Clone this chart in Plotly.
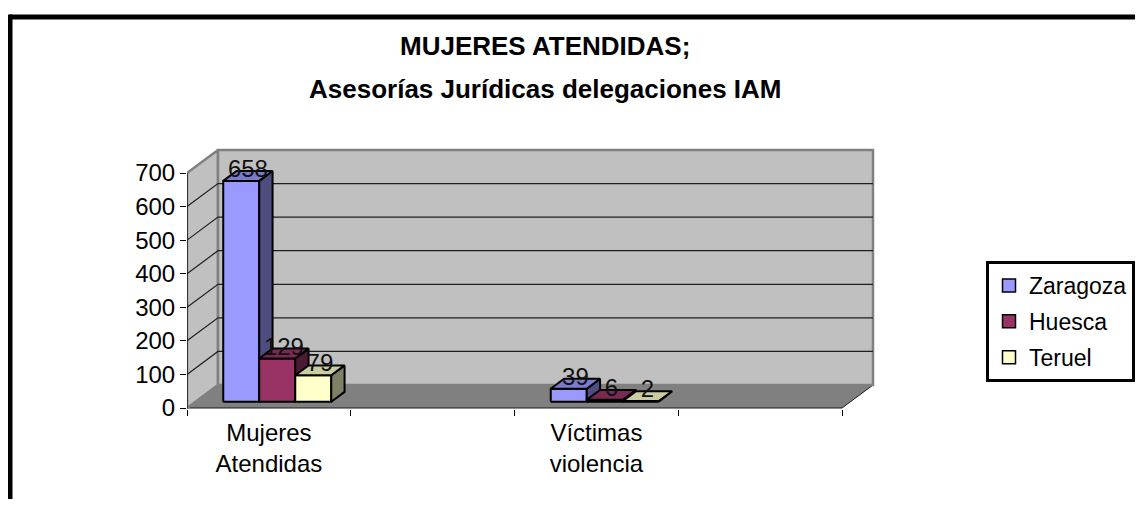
import plotly.graph_objects as go

# ---------------- data ----------------
categories = ["Mujeres<br>Atendidas", "", "Víctimas<br>violencia", ""]
series_names = ["Zaragoza", "Huesca", "Teruel"]
zaragoza = [658, None, 39, None]
huesca = [129, None, 6, None]
teruel = [79, None, 2, None]
y_ticks = [0, 100, 200, 300, 400, 500, 600, 700]
title_line1 = "MUJERES ATENDIDAS;"
title_line2 = "Asesorías Jurídicas delegaciones IAM"

# ---------------- styling / layout ----------------
front_colors = ["#9999FF", "#993366", "#FFFFCC"]
top_colors = ["#7B7BCC", "#7A2952", "#CCCCA3"]
side_colors = ["#4D4D80", "#4D1A33", "#808066"]
FONT = "Liberation Sans, Arial, sans-serif"

W, H = 1143, 507                      # browser window
OFF = 8                               # page body margin
FIG_W, FIG_H = W - 2 * OFF, H - 2 * OFF
L, R, T, B = 187, 880, 140, 409       # plot area in page px
Y0PX = 408                            # pixel row of value 0
KX = 163.75                           # px per category slot
KY = 235 / 700                        # px per value unit
x_range = [0, (R - L) / KX]
y_range = [-(B - Y0PX) / KY, (Y0PX - T) / KY]
DX = 31 / KX                          # depth offset in x units
DY = 23 / KY                          # depth offset in y units
BW = 36 / KX                          # bar width in x units
GROUP_OFF = (1 - 3 * BW) / 2
D_FRONT, D_BACK = 0.27, 0.70
n = len(categories)
ymax = y_ticks[-1]


def px_x(p):
    return (p - L) / (R - L)


def px_y(p):
    return (B - p) / (B - T)


fig = go.Figure()


def poly(xs, ys, fill, line_color, line_width, name=""):
    fig.add_trace(go.Scatter(
        x=xs, y=ys, mode="lines", fill="toself", fillcolor=fill,
        line=dict(color=line_color, width=line_width),
        hoverinfo="skip", showlegend=False, cliponaxis=False, name=name))


def line(xs, ys, color, width):
    fig.add_trace(go.Scatter(
        x=xs, y=ys, mode="lines", line=dict(color=color, width=width),
        hoverinfo="skip", showlegend=False, cliponaxis=False))


# floor
poly([0, n, n + DX, DX, 0], [0, 0, DY, DY, 0], "#808080", "#1a1a1a", 1)
# left wall
poly([0, DX, DX, 0, 0], [0, DY, ymax + DY, ymax, 0], "#C0C0C0", "#808080", 2.5)
# back wall
poly([DX, n + DX, n + DX, DX, DX], [DY, DY, ymax + DY, ymax + DY, DY],
     "#C0C0C0", "#808080", 2.5)

# gridlines
gx, gy = [], []
for v in y_ticks[1:-1]:
    gx += [0, DX, n + DX, None]
    gy += [v, v + DY, v + DY, None]
line(gx, gy, "#1f1f1f", 1.2)

# front y-axis edge
line([0, 0], [0, ymax], "#000000", 1.2)

# bars
all_series = [zaragoza, huesca, teruel]
ddx = (D_BACK - D_FRONT) * DX
ddy = (D_BACK - D_FRONT) * DY
lab_x, lab_y, lab_t = [], [], []
for j, vals in enumerate(all_series):
    fx, fy, sx, sy, tx, ty = [], [], [], [], [], []
    for i, v in enumerate(vals):
        if v is None:
            continue
        x0 = i + GROUP_OFF + j * BW + D_FRONT * DX
        x1 = x0 + BW
        y0 = D_FRONT * DY
        y1 = v + D_FRONT * DY
        fx += [x0, x1, x1, x0, x0, None]
        fy += [y0, y0, y1, y1, y0, None]
        sx += [x1, x1 + ddx, x1 + ddx, x1, x1, None]
        sy += [y0, y0 + ddy, y1 + ddy, y1, y0, None]
        tx += [x0, x1, x1 + ddx, x0 + ddx, x0, None]
        ty += [y1, y1, y1 + ddy, y1 + ddy, y1, None]
        lab_x.append((x0 + x1) / 2 + ddx / 2)
        lab_y.append(v + D_BACK * DY)
        lab_t.append(str(v))
    poly(fx, fy, front_colors[j], "#000000", 2, series_names[j])
    poly(sx, sy, side_colors[j], "#000000", 2)
    poly(tx, ty, top_colors[j], "#000000", 2)

# data labels
fig.add_trace(go.Scatter(
    x=lab_x, y=lab_y, text=lab_t, mode="text", textposition="middle center",
    textfont=dict(family=FONT, size=24, color="#111111"),
    hoverinfo="skip", showlegend=False, cliponaxis=False))

# legend entries
for j, nm in enumerate(series_names):
    fig.add_trace(go.Scatter(
        x=[None], y=[None], mode="markers", name=nm, legendgroup=nm,
        marker=dict(symbol="square", size=13, color=front_colors[j],
                    line=dict(color="#000000", width=1.5))))

fig.update_layout(
    width=FIG_W, height=FIG_H,
    margin=dict(l=L - OFF, r=(OFF + FIG_W) - R, t=T - OFF,
                b=(OFF + FIG_H) - B, pad=0, autoexpand=False),
    paper_bgcolor="white", plot_bgcolor="white",
    font=dict(family=FONT, color="#000000"),
    showlegend=True,
    legend=dict(x=px_x(986), y=px_y(261), xanchor="left", yanchor="top",
                bordercolor="#000000", borderwidth=3, bgcolor="white",
                font=dict(family=FONT, size=23, color="#000000"),
                itemwidth=30, tracegroupgap=3),
    xaxis=dict(range=x_range, showgrid=False, zeroline=False, showline=False,
               tickmode="array", tickvals=[i + 0.5 for i in range(n)],
               ticktext=categories, ticks="", ticklabelstandoff=7,
               tickfont=dict(family=FONT, size=24, color="#000000"),
               minor=dict(tickmode="array", tickvals=list(range(n + 1)),
                          ticks="outside", ticklen=6, tickcolor="#000000",
                          tickwidth=1, showgrid=False)),
    yaxis=dict(range=y_range, showgrid=False, zeroline=False, showline=False,
               tickmode="array", tickvals=y_ticks,
               ticktext=[str(v) for v in y_ticks],
               ticks="outside", ticklen=6, tickcolor="#000000", tickwidth=1,
               tickfont=dict(family=FONT, size=24, color="#000000")),
    annotations=[
        dict(text="<b>%s</b>" % title_line1, xref="paper", yref="paper",
             x=px_x(545), y=px_y(46), xanchor="center", yanchor="middle",
             showarrow=False, font=dict(family=FONT, size=26, color="#000000")),
        dict(text="<b>%s</b>" % title_line2, xref="paper", yref="paper",
             x=px_x(545), y=px_y(89), xanchor="center", yanchor="middle",
             showarrow=False, font=dict(family=FONT, size=26, color="#000000")),
    ],
    shapes=[
        dict(type="line", xref="paper", yref="paper",
             x0=px_x(10), y0=px_y(17), x1=px_x(OFF + FIG_W), y1=px_y(17),
             line=dict(color="#000000", width=5)),
        dict(type="line", xref="paper", yref="paper",
             x0=px_x(10), y0=px_y(14.5), x1=px_x(10), y1=px_y(OFF + FIG_H),
             line=dict(color="#000000", width=5)),
    ],
)

fig.write_html("out.html")
